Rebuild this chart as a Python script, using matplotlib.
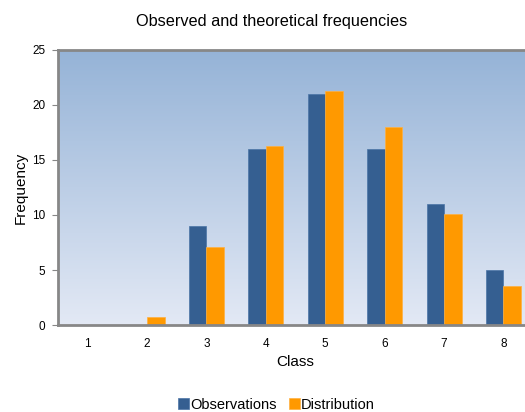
import matplotlib
matplotlib.use("Agg")
import matplotlib.pyplot as plt
import numpy as np
from matplotlib.colors import LinearSegmentedColormap

plt.rcParams["font.family"] = ["Liberation Sans", "DejaVu Sans"]

classes = [1, 2, 3, 4, 5, 6, 7, 8]
observations = [0, 0, 9, 16, 21, 16, 11, 5]
distribution = [0.0, 0.76, 7.1, 16.25, 21.25, 17.95, 10.05, 3.55]

OBS_COLOR = "#355F91"
DIST_COLOR = "#FF9900"
SPINE_COLOR = "#878787"

fig = plt.figure(figsize=(5.25, 4.12), dpi=100)
ax = fig.add_axes([0.1105, 0.211, 0.905, 0.668])

# vertical gradient behind the bars
bg = LinearSegmentedColormap.from_list("bg", ["#E3E9F5", "#95B3D7"])
ax.imshow(np.linspace(0, 1, 256).reshape(-1, 1), cmap=bg, origin="lower",
          extent=(0.5, 8.5, 0, 25), aspect="auto", zorder=0)

x = np.array(classes)
w = 0.295
ax.bar(x - w / 2, observations, width=w, color=OBS_COLOR, edgecolor="#4A74A6",
       linewidth=0.5, label="Observations", zorder=2)
ax.bar(x + w / 2, distribution, width=w, color=DIST_COLOR, edgecolor="#FFB040",
       linewidth=0.5, label="Distribution", zorder=2)

ax.set_xlim(0.5, 8.5)
ax.set_ylim(0, 25)
ax.set_xticks(classes)
ax.set_yticks([0, 5, 10, 15, 20, 25])
ax.tick_params(axis="x", length=0, labelsize=8.5, pad=9)
ax.tick_params(axis="y", length=4, color=SPINE_COLOR, labelsize=8.5, pad=5)
for s in ax.spines.values():
    s.set_color(SPINE_COLOR)
    s.set_linewidth(2)

ax.set_xlabel("Class", fontsize=11, labelpad=4)
ax.set_ylabel("Frequency", fontsize=11, labelpad=3)
fig.text(0.518, 0.948, "Observed and theoretical frequencies", ha="center",
         va="center", fontsize=11.7)

fig.legend(loc="center", bbox_to_anchor=(0.527, 0.018), ncol=2, frameon=False,
           fontsize=10.5, handlelength=0.75, handleheight=0.75, handletextpad=0.1,
           columnspacing=0.8, borderaxespad=0)

fig.savefig("out.png", dpi=100)
